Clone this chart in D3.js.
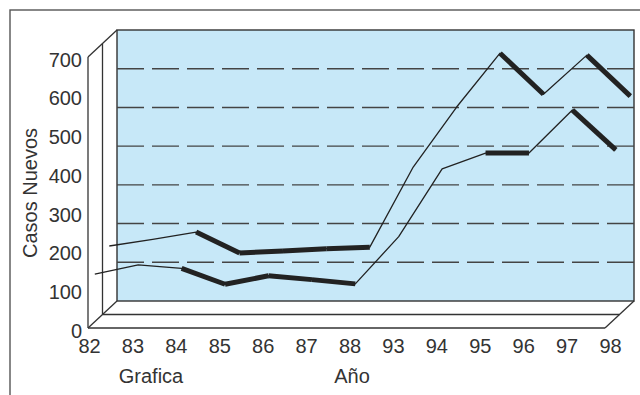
<!DOCTYPE html>
<html>
<head>
<meta charset="utf-8">
<script src="https://cdn.jsdelivr.net/npm/d3@7"></script>
<style>
  body { margin: 0; background: #fff; }
  svg text { font-family: "Liberation Sans", Arial, sans-serif; fill: #333; }
</style>
</head>
<body>
<svg id="chart" width="640" height="395"></svg>
<script>
// years on the floor (category axis)
const years = ["82", "83", "84", "85", "86", "87", "88", "93", "94", "95", "96", "97", "98"];
// back ribbon (upper series)
const serieAtras = [163, 180, 199, 145, 150, 156, 160, 367, 522, 661, 555, 656, 550];
// front ribbon (lower series)
const serieFrente = [125, 149, 140, 99, 121, 111, 100, 222, 397, 438, 438, 549, 446];
// value ticks
const yTicks = [0, 100, 200, 300, 400, 500, 600, 700];
const gridTicks = [100, 200, 300, 400, 500, 600];

// segments drawn as the thick (top face) part of the ribbon
const tramosGruesos = [2, 3, 4, 5, 9, 11];

const svg = d3.select("#chart");
const depth = { dx: 29, dy: -27 }; // offset from front plane to back wall

// front plane scales
const x = d3.scalePoint().domain(years).range([89, 610]);
const y = d3.scaleLinear().domain([0, 700]).range([328, 57]);
const frontLeft = 88, frontRight = 605;

// outer frame
svg.append("rect")
  .attr("x", 10).attr("y", 10)
  .attr("width", 700).attr("height", 500)
  .attr("fill", "none").attr("stroke", "#555").attr("stroke-width", 1.4);

// back wall
const wallTop = y(700) + depth.dy, wallBottom = y(0) + depth.dy;
svg.append("rect")
  .attr("x", frontLeft + depth.dx).attr("y", wallTop)
  .attr("width", frontRight - frontLeft)
  .attr("height", wallBottom - wallTop)
  .attr("fill", "#c7e8f8").attr("stroke", "#333").attr("stroke-width", 1.4);

// dashed grid on the back wall
svg.append("g").selectAll("line")
  .data(gridTicks)
  .join("line")
  .attr("x1", frontLeft + depth.dx).attr("x2", frontRight + depth.dx)
  .attr("y1", d => y(d) + depth.dy).attr("y2", d => y(d) + depth.dy)
  .attr("stroke", "#444").attr("stroke-width", 1.4)
  .attr("stroke-dasharray", "27,8");

// side wall and floor outlines
const frame = svg.append("g").attr("fill", "none").attr("stroke", "#333").attr("stroke-width", 1.3);
const pt = (px, py, z) => [px + z * depth.dx, py + z * depth.dy];
const outline = [
  [pt(frontLeft, y(700), 0), pt(frontLeft, y(700), 1)],
  [pt(frontLeft, y(700), 0), pt(frontLeft, y(0), 0)],
  [pt(frontLeft, y(0), 0), pt(frontRight, y(0), 0)],
  [pt(frontLeft, y(0), 0), pt(frontLeft, y(0), 1)],
  [pt(frontRight, y(0), 0), pt(frontRight, y(0), 1)],
  [pt(frontLeft, y(700), 0.5), pt(frontLeft, y(0), 0.5)],
  [pt(frontLeft, y(0), 0.5), pt(frontRight, y(0), 0.5)]
];
frame.selectAll("path")
  .data(outline)
  .join("path")
  .attr("d", d3.line());

// axes
const yAxis = svg.append("g")
  .attr("transform", "translate(" + frontLeft + ",0)")
  .call(d3.axisLeft(y).tickValues(yTicks).tickSize(0).tickPadding(6));
yAxis.select(".domain").remove();
yAxis.selectAll("text").attr("font-size", "20px").attr("dy", "0.46em");

const xAxis = svg.append("g")
  .attr("transform", "translate(0," + y(0) + ")")
  .call(d3.axisBottom(x).tickSize(0).tickPadding(11));
xAxis.select(".domain").remove();
xAxis.selectAll("text").attr("font-size", "20px");

// ribbons
function drawSerie(values, z) {
  const pts = values.map((v, i) => pt(x(years[i]), y(v), z));
  const g = svg.append("g").attr("fill", "none").attr("stroke", "#222");
  g.append("path")
    .attr("d", d3.line()(pts))
    .attr("stroke-width", 1.3)
    .attr("stroke-linejoin", "round");
  g.selectAll(".grueso")
    .data(tramosGruesos)
    .join("path")
    .attr("class", "grueso")
    .attr("d", i => d3.line()([pts[i], pts[i + 1]]))
    .attr("stroke-width", 5)
    .attr("stroke-linecap", "butt");
}
drawSerie(serieAtras, 0.7);
drawSerie(serieFrente, 0.2);

// titles
svg.append("text")
  .attr("transform", "translate(37,193) rotate(-90)")
  .attr("text-anchor", "middle")
  .attr("font-size", "20px")
  .text("Casos Nuevos");
svg.append("text")
  .attr("x", 151).attr("y", 383)
  .attr("text-anchor", "middle")
  .attr("font-size", "20px")
  .text("Grafica");
svg.append("text")
  .attr("x", 352).attr("y", 383)
  .attr("text-anchor", "middle")
  .attr("font-size", "20px")
  .text("Año");
</script>
</body>
</html>
